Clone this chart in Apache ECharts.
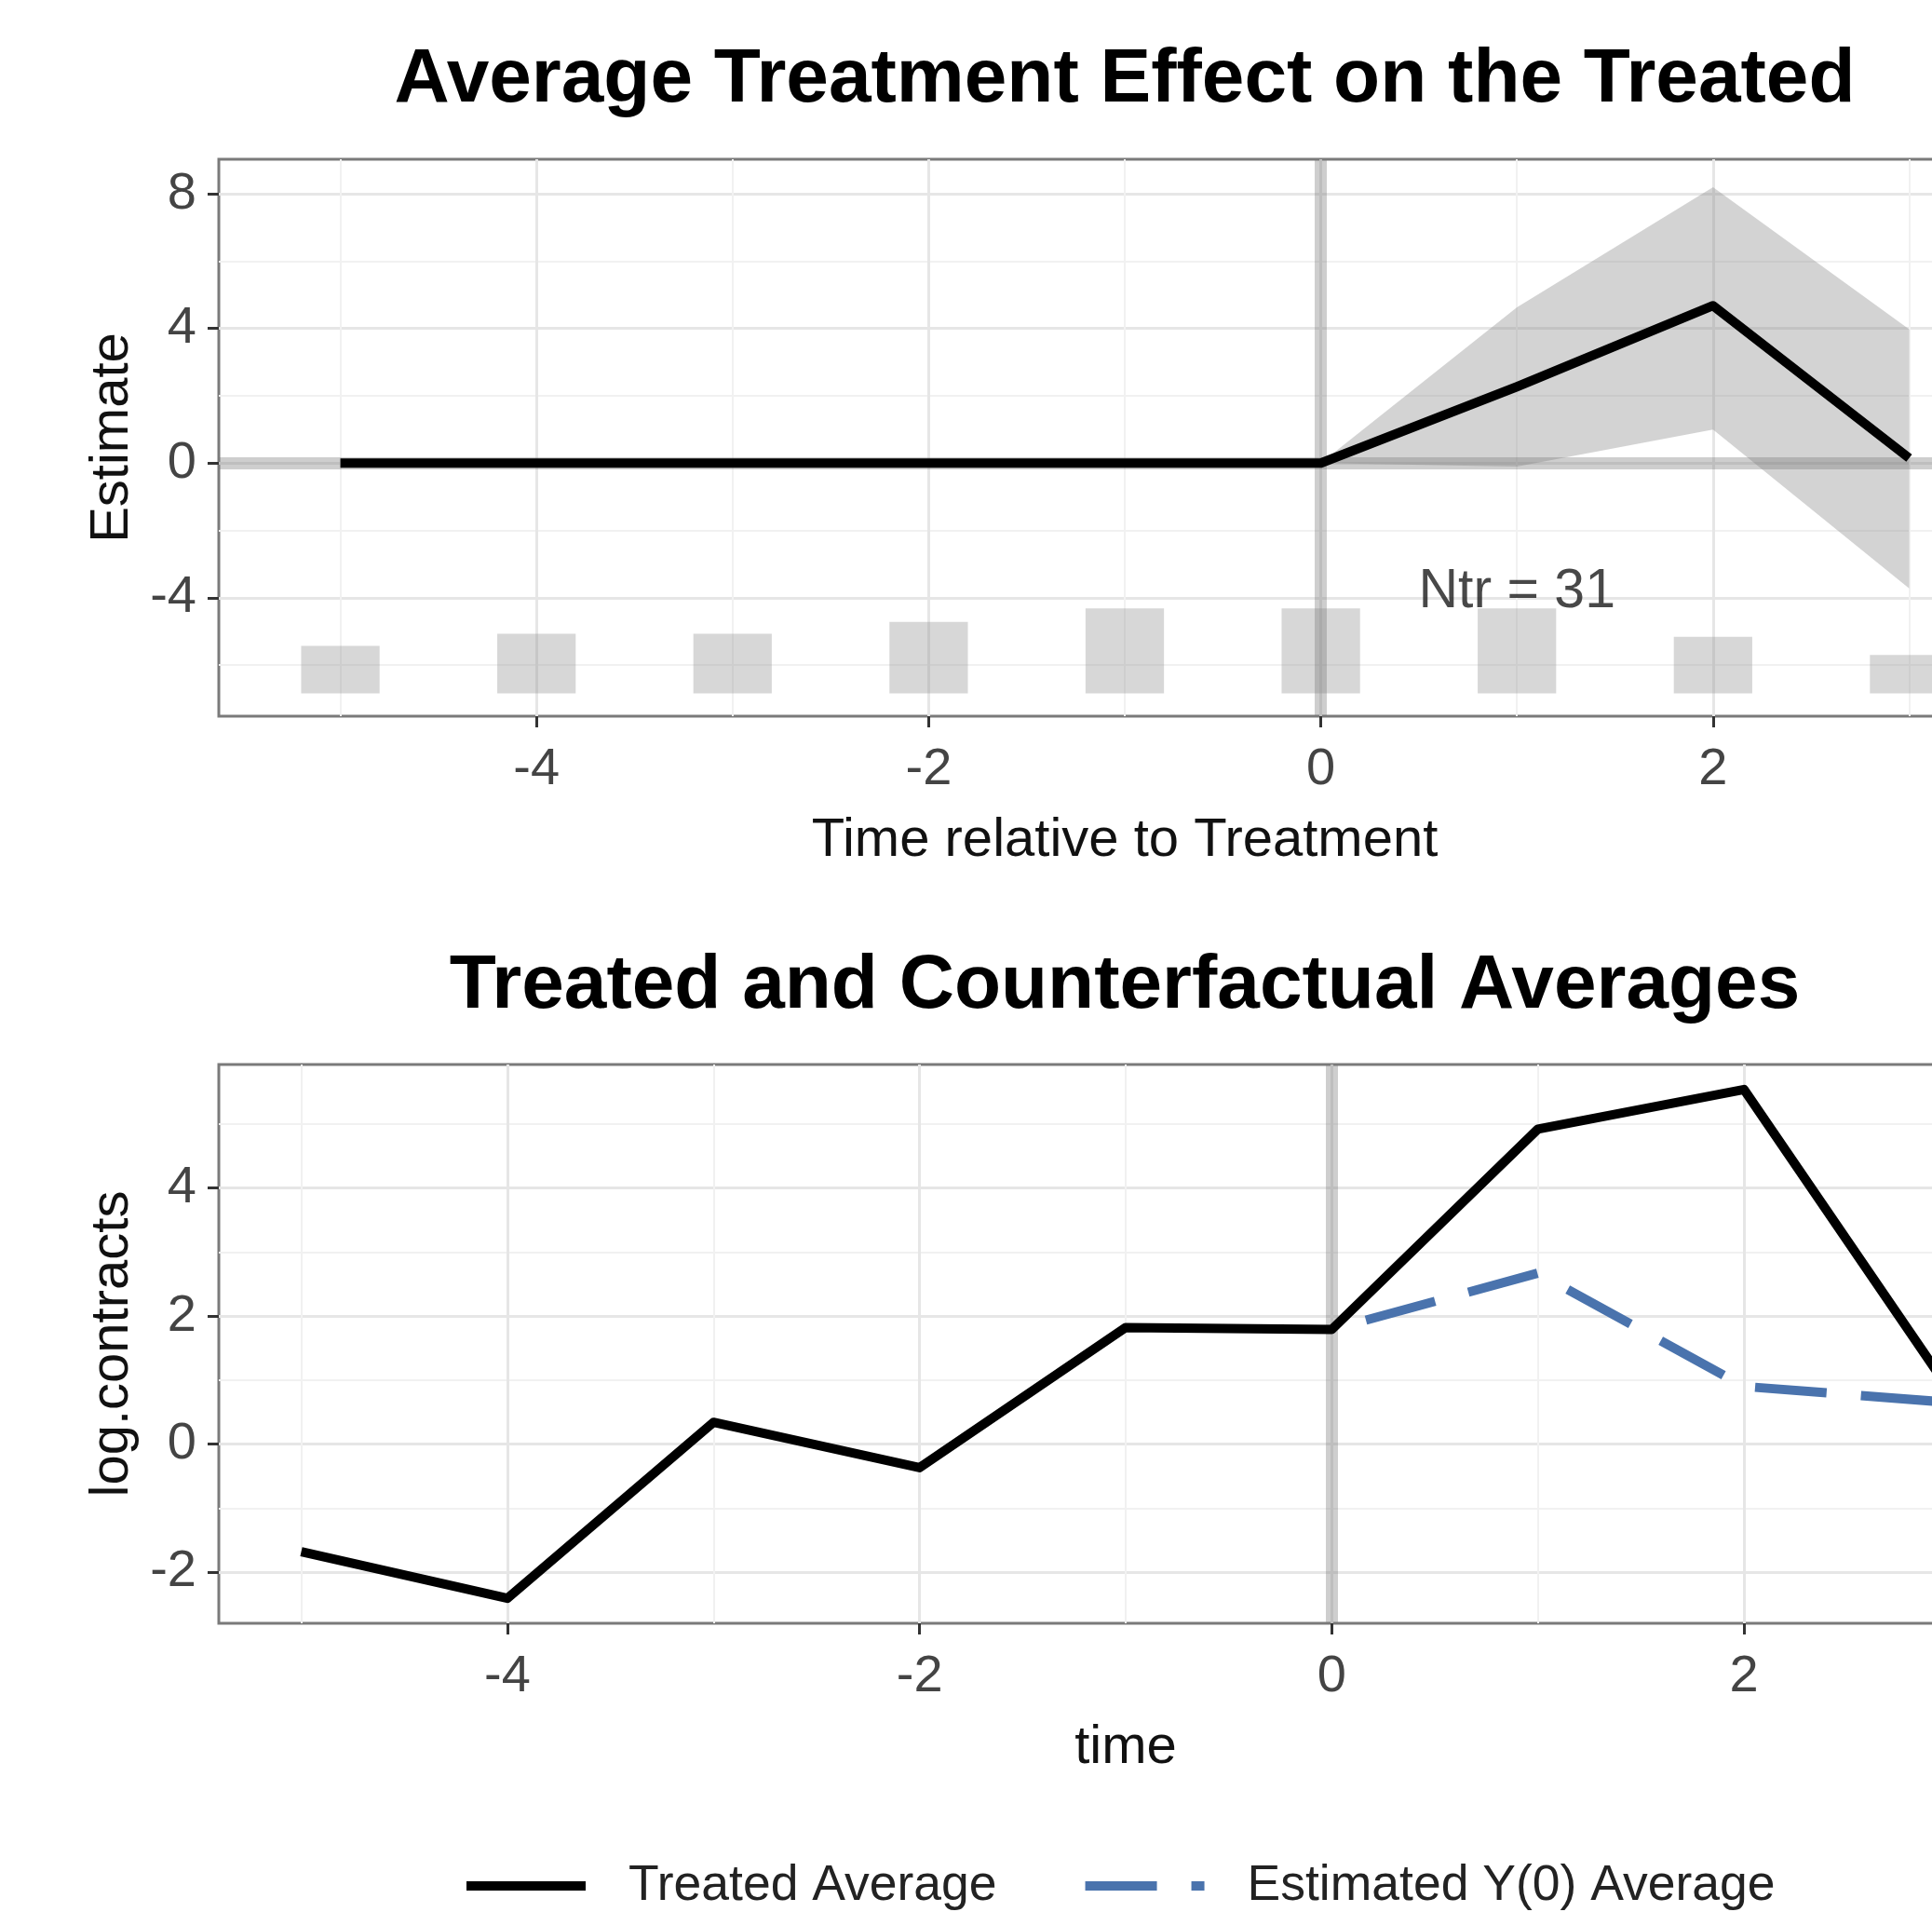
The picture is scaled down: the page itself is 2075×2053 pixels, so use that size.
<!DOCTYPE html>
<html>
<head>
<meta charset="utf-8">
<script src="https://cdn.jsdelivr.net/npm/echarts@6.0.0/dist/echarts.min.js"></script>
<style>
  html, body { margin: 0; padding: 0; background: #fff; }
  #chart { width: 2075px; height: 2053px; }
</style>
</head>
<body>
<div id="chart"></div>
<script>
  // ---- data ----
  // top panel: ATT by time relative to treatment
  var attTime = [-5, -4, -3, -2, -1, 0, 1, 2, 3]
  var attEst = [0, 0, 0, 0, 0, 0, 2.27, 4.68, 0.15]
  var ciTime = [0, 1, 2, 3]
  var ciLower = [0, -0.1, 1.0, -3.72]
  var ciUpper = [0, 4.63, 8.2, 3.98]
  // grey count bars under the ATT curve (top of each bar, bars share one base)
  var countTime = [-5, -4, -3, -2, -1, 0, 1, 2, 3]
  var countTop = [-5.43, -5.07, -5.07, -4.72, -4.32, -4.32, -4.32, -5.16, -5.7]
  var countBase = -6.84
  var ntrText = 'Ntr = 31'
  var ntrPos = [1, -3.84]

  // bottom panel: treated vs counterfactual averages
  var avgTime = [-5, -4, -3, -2, -1, 0, 1, 2, 3]
  var treatedAvg = [-1.68, -2.41, 0.34, -0.37, 1.82, 1.79, 4.92, 5.54, 0.83]
  var y0Time = [0, 1, 2, 3]
  var y0Avg = [1.79, 2.67, 0.9, 0.65]

  // tick labels
  var xTicks = [-4, -2, 0, 2]
  var yTicksTop = [-4, 0, 4, 8]
  var yTicksBottom = [-2, 0, 2, 4]

  var FONT = '"Liberation Sans", Arial, Helvetica, sans-serif'
  var BAR_HALF = 0.2 // half bar width, in x units
  var DASH = [77, 37]
  var LW = 10

  function pairs(xs, ys) {
    return xs.map(function (x, i) { return [x, ys[i]] })
  }

  function xAxisCfg(grid, min, max, name) {
    return {
      type: 'value', gridIndex: grid, min: min, max: max,
      minInterval: 2, maxInterval: 2,
      axisLine: { show: false, onZero: false },
      axisTick: { show: true, length: 12, customValues: xTicks, lineStyle: { color: '#333', width: 3 } },
      axisLabel: { customValues: xTicks, margin: 58, verticalAlign: 'middle', fontFamily: FONT, fontSize: 56, color: '#444' },
      splitLine: { show: true, lineStyle: { color: '#e6e6e6', width: 3 } },
      minorTick: { show: false, splitNumber: 2 },
      minorSplitLine: { show: true, lineStyle: { color: '#f1f1f1', width: 2 } },
      name: name, nameLocation: 'middle', nameGap: 134,
      nameTextStyle: { fontFamily: FONT, fontSize: 58, color: '#111', verticalAlign: 'middle' }
    }
  }

  function yAxisCfg(grid, min, max, step, ticks, name) {
    return {
      type: 'value', gridIndex: grid, min: min, max: max,
      minInterval: step, maxInterval: step,
      axisLine: { show: false, onZero: false },
      axisTick: { show: true, length: 12, customValues: ticks, lineStyle: { color: '#333', width: 3 } },
      axisLabel: { customValues: ticks, margin: 24, fontFamily: FONT, fontSize: 56, color: '#444' },
      splitLine: { show: true, lineStyle: { color: '#e6e6e6', width: 3 } },
      minorTick: { show: false, splitNumber: 2 },
      minorSplitLine: { show: true, lineStyle: { color: '#f1f1f1', width: 2 } },
      name: name, nameLocation: 'middle', nameGap: 103,
      nameTextStyle: { fontFamily: FONT, fontSize: 58, color: '#111', verticalAlign: 'middle' }
    }
  }

  var refLine = { color: 'rgba(120,120,120,0.36)', width: 13, type: 'solid' }

  var chart = echarts.init(document.getElementById('chart'))
  var option = {
    animation: false,
    backgroundColor: '#fff',
    graphic: [
      { type: 'text', x: 1208, y: 86, style: { text: 'Average Treatment Effect on the Treated', font: 'bold 82px ' + FONT, fill: '#000', align: 'center', verticalAlign: 'middle' } },
      { type: 'text', x: 1208, y: 1059, style: { text: 'Treated and Counterfactual Averages', font: 'bold 82px ' + FONT, fill: '#000', align: 'center', verticalAlign: 'middle' } }
    ],
    grid: [
      { left: 235, top: 171, width: 1946, height: 598, outerBoundsMode: 'none', containLabel: false, show: true, backgroundColor: '#fff', borderColor: '#7a7a7a', borderWidth: 3 },
      { left: 235, top: 1143, width: 1948, height: 600, outerBoundsMode: 'none', containLabel: false, show: true, backgroundColor: '#fff', borderColor: '#7a7a7a', borderWidth: 3 }
    ],
    xAxis: [
      xAxisCfg(0, -5.62, 3.62, 'Time relative to Treatment'),
      xAxisCfg(1, -5.4, 3.4, 'time')
    ],
    yAxis: [
      yAxisCfg(0, -7.52, 9.03, 4, yTicksTop, 'Estimate'),
      yAxisCfg(1, -2.8, 5.93, 2, yTicksBottom, 'log.contracts')
    ],
    legend: {
      left: 491, top: 1993,
      itemWidth: 128, itemHeight: 24, itemGap: 90,
      textStyle: { fontFamily: FONT, fontSize: 53.5, color: '#222', padding: [0, 0, 0, 41] },
      itemStyle: { opacity: 0 },
      lineStyle: { width: LW },
      data: [
        { name: 'Treated Average', itemStyle: { opacity: 0 }, lineStyle: { width: LW } },
        { name: 'Estimated Y(0) Average', itemStyle: { opacity: 0 }, lineStyle: { width: LW, type: DASH, dashOffset: 0 } }
      ]
    },
    series: [
      // count bars
      {
        type: 'custom', xAxisIndex: 0, yAxisIndex: 0, z: 2,
        data: pairs(countTime, countTop),
        renderItem: function (params, api) {
          var x = api.value(0)
          var p1 = api.coord([x - BAR_HALF, api.value(1)])
          var p2 = api.coord([x + BAR_HALF, countBase])
          return {
            type: 'rect',
            shape: { x: p1[0], y: p1[1], width: p2[0] - p1[0], height: p2[1] - p1[1] },
            style: { fill: 'rgba(150,150,150,0.38)' }
          }
        }
      },
      // confidence band, one polygon: upper edge out, lower edge back
      {
        type: 'custom', xAxisIndex: 0, yAxisIndex: 0, z: 3,
        data: ciTime.map(function (t, i) { return [t, ciLower[i], ciUpper[i]] }),
        encode: { x: 0, y: [1, 2] },
        renderItem: function (params, api) {
          if (params.dataIndex !== 0) return null
          var pts = []
          ciTime.forEach(function (t, i) { pts.push(api.coord([t, ciUpper[i]])) })
          for (var i = ciTime.length - 1; i >= 0; i--) pts.push(api.coord([ciTime[i], ciLower[i]]))
          return { type: 'polygon', shape: { points: pts }, style: { fill: 'rgba(140,140,140,0.38)' } }
        },
        markLine: {
          silent: true, symbol: ['none', 'none'], label: { show: false },
          lineStyle: refLine,
          data: [{ yAxis: 0 }, { xAxis: 0 }]
        }
      },
      {
        name: 'ATT', type: 'line', xAxisIndex: 0, yAxisIndex: 0, z: 5,
        data: pairs(attTime, attEst),
        symbol: 'none',
        lineStyle: { color: '#000', width: LW, cap: 'butt', join: 'round' }
      },
      {
        type: 'scatter', xAxisIndex: 0, yAxisIndex: 0, z: 6,
        data: [ntrPos], symbolSize: 0, itemStyle: { color: '#222' },
        label: { show: true, position: 'inside', formatter: ntrText, fontFamily: FONT, fontSize: 59, color: '#1a1a1a', textBorderWidth: 0 }
      },
      // bottom panel
      {
        name: 'Estimated Y(0) Average', type: 'line', xAxisIndex: 1, yAxisIndex: 1, z: 4,
        data: pairs(y0Time, y0Avg),
        symbol: 'none',
        color: '#4a73ad',
        lineStyle: { color: '#4a73ad', width: LW, type: DASH, dashOffset: 76, cap: 'butt', join: 'round' },
        markLine: {
          silent: true, symbol: ['none', 'none'], label: { show: false },
          lineStyle: refLine,
          data: [{ xAxis: 0 }]
        }
      },
      {
        name: 'Treated Average', type: 'line', xAxisIndex: 1, yAxisIndex: 1, z: 5,
        data: pairs(avgTime, treatedAvg),
        symbol: 'none',
        color: '#000',
        lineStyle: { color: '#000', width: LW, cap: 'butt', join: 'round' }
      }
    ]
  }
  chart.setOption(option)
</script>
</body>
</html>
